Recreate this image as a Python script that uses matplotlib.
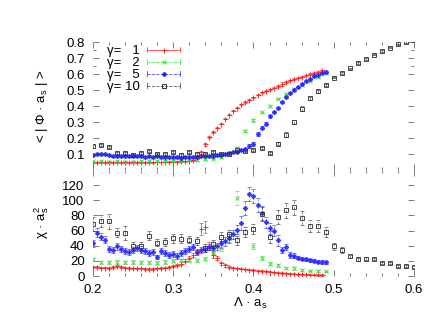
import numpy as np
import matplotlib
matplotlib.use('Agg')
import matplotlib.pyplot as plt
from matplotlib.legend_handler import HandlerBase
from matplotlib.lines import Line2D
from matplotlib.ticker import MultipleLocator, FixedLocator

plt.rcParams['font.family'] = ['Liberation Sans', 'DejaVu Sans']
plt.rcParams['mathtext.default'] = 'regular'
plt.rcParams['font.size'] = 9.5

# ---------------- data ----------------
# gamma = 1 (step 0.005, 0.200 .. 0.485)
lam_g1 = [0.200, 0.205, 0.210, 0.215, 0.220, 0.225, 0.230, 0.235, 0.240, 0.245,
          0.250, 0.255, 0.260, 0.265, 0.270, 0.275, 0.280, 0.285, 0.290, 0.295,
          0.300, 0.305, 0.310, 0.315, 0.320, 0.325, 0.330, 0.335, 0.340, 0.345,
          0.350, 0.355, 0.360, 0.365, 0.370, 0.375, 0.380, 0.385, 0.390, 0.395,
          0.400, 0.405, 0.410, 0.415, 0.420, 0.425, 0.430, 0.435, 0.440, 0.445,
          0.450, 0.455, 0.460, 0.465, 0.470, 0.475, 0.480, 0.485]
phi_g1 = [0.048, 0.048, 0.047, 0.048, 0.047, 0.048, 0.047, 0.048, 0.048, 0.047,
          0.048, 0.048, 0.048, 0.049, 0.049, 0.049, 0.050, 0.050, 0.051, 0.052,
          0.052, 0.053, 0.055, 0.056, 0.058, 0.062, 0.075, 0.110, 0.160, 0.205,
          0.235, 0.265, 0.290, 0.320, 0.345, 0.370, 0.390, 0.410, 0.425, 0.440,
          0.455, 0.470, 0.485, 0.495, 0.505, 0.515, 0.525, 0.540, 0.550, 0.560,
          0.568, 0.576, 0.584, 0.592, 0.600, 0.607, 0.614, 0.622]
phi_g1_err = [0.003, 0.003, 0.003, 0.003, 0.003, 0.003, 0.003, 0.003, 0.003, 0.003,
              0.003, 0.003, 0.003, 0.003, 0.003, 0.003, 0.003, 0.003, 0.003, 0.003,
              0.003, 0.003, 0.003, 0.003, 0.003, 0.003, 0.006, 0.010, 0.010, 0.008,
              0.006, 0.004, 0.004, 0.004, 0.004, 0.004, 0.004, 0.004, 0.004, 0.004,
              0.004, 0.004, 0.004, 0.004, 0.004, 0.004, 0.004, 0.012, 0.004, 0.004,
              0.004, 0.004, 0.004, 0.004, 0.004, 0.004, 0.004, 0.006]
chi_g1 = [12.0, 12.0, 11.0, 11.0, 10.5, 12.0, 13.5, 12.0, 11.0, 10.5,
          10.0, 10.0, 10.0, 9.5, 9.5, 9.5, 10.0, 10.5, 11.0, 12.0,
          13.0, 15.0, 16.5, 20.0, 24.0, 28.0, 32.0, 62.0, 65.0, 40.0,
          28.0, 24.0, 17.0, 14.0, 12.0, 11.0, 10.0, 9.5, 9.0, 8.5,
          8.0, 7.0, 6.5, 6.0, 5.5, 5.0, 4.5, 4.0, 3.5, 3.0,
          2.8, 2.5, 2.2, 2.0, 1.8, 1.5, 1.3, 1.2]
chi_g1_err = [1.0, 1.0, 1.0, 1.0, 1.0, 1.0, 1.0, 1.0, 1.0, 1.0,
              1.0, 1.0, 1.0, 1.0, 1.0, 1.0, 1.0, 1.0, 1.0, 1.0,
              1.0, 1.5, 1.5, 2.0, 2.0, 2.5, 3.0, 8.0, 8.0, 5.0,
              4.0, 3.0, 2.0, 1.5, 0.8, 0.8, 0.8, 0.8, 0.8, 0.8,
              0.8, 0.8, 0.8, 0.8, 0.8, 0.8, 0.8, 0.8, 0.8, 0.8,
              0.8, 0.8, 0.8, 0.8, 0.8, 0.8, 0.8, 0.8]

# gamma = 2 (step 0.01, 0.20 .. 0.49)
lam_g2 = [0.20, 0.21, 0.22, 0.23, 0.24, 0.25, 0.26, 0.27, 0.28, 0.29,
          0.30, 0.31, 0.32, 0.33, 0.34, 0.35, 0.36, 0.37, 0.38, 0.39,
          0.40, 0.41, 0.42, 0.43, 0.44, 0.45, 0.46, 0.47, 0.48, 0.49]
phi_g2 = [0.055, 0.055, 0.052, 0.055, 0.052, 0.053, 0.055, 0.055, 0.055, 0.057,
          0.058, 0.058, 0.060, 0.062, 0.066, 0.070, 0.083, 0.100, 0.135, 0.245,
          0.310, 0.360, 0.400, 0.445, 0.477, 0.508, 0.533, 0.558, 0.582, 0.605]
phi_g2_err = [0.004, 0.004, 0.004, 0.004, 0.004, 0.004, 0.004, 0.004, 0.004, 0.004,
              0.004, 0.004, 0.004, 0.004, 0.004, 0.004, 0.005, 0.006, 0.008, 0.008,
              0.008, 0.005, 0.004, 0.004, 0.004, 0.004, 0.004, 0.004, 0.004, 0.004]
chi_g2 = [22.0, 18.0, 18.0, 18.5, 18.0, 18.5, 18.0, 18.0, 17.5, 18.5,
          20.0, 21.0, 21.0, 21.0, 23.0, 32.0, 37.0, 50.0, 103.0, np.nan,
          40.0, 24.0, 16.0, 14.5, 11.0, 10.0, 8.0, 7.0, 6.5, 6.0]
chi_g2_err = [2.0, 2.0, 2.0, 2.0, 2.0, 2.0, 2.0, 2.0, 2.0, 2.0,
              2.0, 2.0, 2.0, 2.0, 2.5, 3.0, 4.0, 5.0, 9.0, 0.0,
              4.0, 3.0, 2.0, 2.0, 1.5, 1.5, 1.0, 1.0, 1.0, 1.0]

# gamma = 5 (step 0.005, 0.200 .. 0.490)
lam_g5 = [0.200, 0.205, 0.210, 0.215, 0.220, 0.225, 0.230, 0.235, 0.240, 0.245,
          0.250, 0.255, 0.260, 0.265, 0.270, 0.275, 0.280, 0.285, 0.290, 0.295,
          0.300, 0.305, 0.310, 0.315, 0.320, 0.325, 0.330, 0.335, 0.340, 0.345,
          0.350, 0.355, 0.360, 0.365, 0.370, 0.375, 0.380, 0.385, 0.390, 0.395,
          0.400, 0.405, 0.410, 0.415, 0.420, 0.425, 0.430, 0.435, 0.440, 0.445,
          0.450, 0.455, 0.460, 0.465, 0.470, 0.475, 0.480, 0.485, 0.490]
phi_g5 = [0.095, 0.100, 0.098, 0.100, 0.095, 0.090, 0.088, 0.085, 0.090, 0.085,
          0.088, 0.090, 0.085, 0.083, 0.085, 0.083, 0.085, 0.083, 0.080, 0.082,
          0.080, 0.080, 0.078, 0.080, 0.080, 0.082, 0.083, 0.085, 0.087, 0.088,
          0.090, 0.092, 0.095, 0.100, 0.105, 0.110, 0.115, 0.125, 0.130, 0.150,
          0.165, 0.225, 0.265, 0.290, 0.335, 0.365, 0.390, 0.425, 0.455, 0.480,
          0.500, 0.520, 0.540, 0.555, 0.570, 0.585, 0.595, 0.605, 0.615]
phi_g5_err = [0.006, 0.006, 0.006, 0.006, 0.006, 0.006, 0.006, 0.006, 0.006, 0.006,
              0.006, 0.006, 0.006, 0.006, 0.006, 0.006, 0.006, 0.006, 0.006, 0.006,
              0.006, 0.006, 0.006, 0.006, 0.006, 0.006, 0.006, 0.006, 0.006, 0.006,
              0.006, 0.006, 0.006, 0.006, 0.006, 0.006, 0.008, 0.008, 0.010, 0.010,
              0.012, 0.012, 0.010, 0.010, 0.008, 0.006, 0.006, 0.006, 0.006, 0.005,
              0.005, 0.005, 0.005, 0.005, 0.005, 0.005, 0.005, 0.005, 0.005]
chi_g5 = [43.0, 57.0, 52.0, 48.0, 36.0, 34.0, 39.0, 36.0, 33.0, 32.0,
          34.0, 37.0, 35.0, 33.0, 30.0, 32.0, 25.0, 33.0, 30.0, 28.0,
          29.0, 27.0, 30.0, 33.0, 36.0, 38.0, 32.0, 34.0, 36.0, 38.0,
          37.0, 39.0, 43.0, 46.0, 50.0, 55.0, 61.0, 70.0, 90.0, 108.0,
          106.0, 94.0, 83.0, 71.0, 63.0, 60.0, 47.0, 34.0, 38.0, 28.0,
          27.0, 24.0, 23.0, 22.0, 21.0, 20.0, 19.0, 18.5, 18.0]
chi_g5_err = [5.0, 6.0, 5.0, 5.0, 4.0, 4.0, 4.0, 4.0, 4.0, 4.0,
              4.0, 4.0, 4.0, 4.0, 4.0, 4.0, 3.0, 4.0, 4.0, 4.0,
              4.0, 4.0, 4.0, 4.0, 4.0, 4.0, 4.0, 4.0, 4.0, 4.0,
              4.0, 4.0, 6.0, 6.0, 6.0, 6.0, 6.0, 9.0, 9.0, 9.0,
              9.0, 9.0, 9.0, 7.0, 7.0, 7.0, 7.0, 4.0, 4.0, 4.0,
              3.0, 2.0, 2.0, 2.0, 2.0, 2.0, 2.0, 2.0, 2.0]

# gamma = 10 (step 0.01, 0.20 .. 0.60)
lam_g10 = [0.20, 0.21, 0.22, 0.23, 0.24, 0.25, 0.26, 0.27, 0.28, 0.29,
           0.30, 0.31, 0.32, 0.33, 0.34, 0.35, 0.36, 0.37, 0.38, 0.39,
           0.40, 0.41, 0.42, 0.43, 0.44, 0.45, 0.46, 0.47, 0.48, 0.49,
           0.50, 0.51, 0.52, 0.53, 0.54, 0.55, 0.56, 0.57, 0.58, 0.59, 0.60]
phi_g10 = [0.148, 0.155, 0.142, 0.108, 0.108, 0.094, 0.108, 0.118, 0.102, 0.098,
           0.112, 0.094, 0.114, 0.100, 0.100, 0.114, 0.100, 0.100, 0.122, 0.118,
           0.127, 0.135, 0.108, 0.165, 0.220, 0.300, 0.382, 0.447, 0.492, 0.532,
           0.577, 0.608, 0.635, 0.668, 0.694, 0.720, 0.744, 0.765, 0.785, 0.800, 0.815]
phi_g10_err = [0.008, 0.006, 0.006, 0.006, 0.006, 0.005, 0.006, 0.006, 0.006, 0.006,
               0.006, 0.005, 0.006, 0.005, 0.005, 0.006, 0.005, 0.005, 0.006, 0.006,
               0.006, 0.006, 0.006, 0.010, 0.015, 0.015, 0.015, 0.012, 0.008, 0.006,
               0.005, 0.005, 0.005, 0.005, 0.005, 0.004, 0.004, 0.004, 0.004, 0.004, 0.004]
chi_g10 = [69.0, 73.0, 72.0, 57.0, 57.0, 40.0, 40.0, 53.0, 44.0, 45.0,
           50.0, 49.0, 48.0, 46.0, 37.0, 42.0, 52.0, 55.0, 47.0, 58.0,
           62.0, 82.0, 52.0, 78.0, 87.0, 91.0, 77.0, 66.0, 66.0, 58.0,
           39.0, 34.0, 26.0, 22.0, 22.5, 22.0, 17.0, 17.0, 13.5, 13.0, 11.5]
chi_g10_err = [9.0, 8.0, 10.0, 6.0, 9.0, 5.0, 5.0, 6.0, 5.0, 5.0,
               6.0, 6.0, 5.0, 5.0, 5.0, 5.0, 6.0, 6.0, 6.0, 7.0,
               7.0, 9.0, 8.0, 9.0, 10.0, 10.0, 9.0, 8.0, 8.0, 7.0,
               4.0, 4.0, 2.0, 2.0, 2.0, 1.5, 1.5, 1.5, 1.5, 1.5, 1.5]

labels = ['γ=   1', 'γ=   2', 'γ=   5', 'γ= 10']
colors = ['#ff1a1a', '#33e033', '#2222ff', '#333333']
markers = ['+', 'x', (8, 2, 0), 's']
ebar_styles = ['-', (0, (1.2, 1.2)), (0, (2.5, 2.0)), (0, (3, 1.5, 1, 1.5))]

series = [
    (lam_g1, phi_g1, phi_g1_err, chi_g1, chi_g1_err),
    (lam_g2, phi_g2, phi_g2_err, chi_g2, chi_g2_err),
    (lam_g5, phi_g5, phi_g5_err, chi_g5, chi_g5_err),
    (lam_g10, phi_g10, phi_g10_err, chi_g10, chi_g10_err),
]

# ---------------- figure ----------------
fig = plt.figure(figsize=(4.36, 3.14), dpi=100)
ax1 = fig.add_axes([0.2133, 0.4586, 0.7362, 0.4076])
ax2 = fig.add_axes([0.2133, 0.1210, 0.7362, 0.3376], sharex=ax1)

MS = {'+': 3.6, 'x': 3.2, 's': 3.0}


def msize(mk):
    return MS.get(mk, 3.4) if isinstance(mk, str) else 3.4


def draw(ax, x, y, e, i):
    mk = markers[i]
    cont = ax.errorbar(x, y, yerr=e, fmt='none', ecolor=colors[i],
                       elinewidth=0.6, capsize=1.3, capthick=0.6, zorder=2 + i * 0.1)
    for lc in cont[2]:
        lc.set_linestyle(ebar_styles[i])
        lc.set_alpha(0.7)
    for cl in cont[1]:
        cl.set_alpha(0.7)
    ax.plot(x, y, ls='none', marker=mk, ms=msize(mk), mew=0.7, mfc='none',
            mec=colors[i], color=colors[i], alpha=0.9, zorder=3 + i * 0.1)


for i, (lam, phi, phie, chi, chie) in enumerate(series):
    draw(ax1, lam, phi, phie, i)
    draw(ax2, lam, chi, chie, i)

ax1.set_xlim(0.2, 0.6)
ax1.set_ylim(0.0, 0.8)
ax2.set_ylim(0, 140)

for ax in (ax1, ax2):
    for s in ax.spines.values():
        s.set_visible(False)
    ax.xaxis.set_major_locator(MultipleLocator(0.1))
    ax.xaxis.set_minor_locator(MultipleLocator(0.02))
    ax.tick_params(which='both', direction='in', top=True, right=True,
                   color='#666666', width=0.6, labelsize=9.5)
    ax.tick_params(which='major', length=4, pad=6)
    ax.tick_params(which='minor', length=2)

ax1.yaxis.set_major_locator(FixedLocator([0.1, 0.2, 0.3, 0.4, 0.5, 0.6, 0.7, 0.8]))
ax1.yaxis.set_minor_locator(FixedLocator([0.65, 0.75]))
ax1.set_yticklabels(['0.1', '0.2', '0.3', '0.4', '0.5', '0.6', '0.7', '0.8'])
ax1.tick_params(axis='x', labelbottom=False)

ax2.yaxis.set_major_locator(FixedLocator([0, 20, 40, 60, 80, 100, 120]))
ax2.set_xticks([0.2, 0.3, 0.4, 0.5, 0.6])
ax2.set_xticklabels(['0.2', '0.3', '0.4', '0.5', '0.6'])

ax1.set_ylabel('< | Φ · a$_s$ | >', fontsize=9.5, va='center')
ax1.yaxis.set_label_coords(-0.159, 0.5)
ax2.set_ylabel('χ · a$_s^2$', fontsize=9.5, va='center')
ax2.yaxis.set_label_coords(-0.159, 0.5)
ax2.set_xlabel('Λ · a$_s$', fontsize=9.5, va='center')
ax2.xaxis.set_label_coords(0.49, -0.255)


class ErrbarHandler(HandlerBase):
    def create_artists(self, legend, orig_handle, xdescent, ydescent,
                       width, height, fontsize, trans):
        y = height / 2.0 - ydescent
        x0 = -xdescent
        x1 = -xdescent + width
        c = orig_handle.get_color()
        ls = orig_handle.get_linestyle()
        cap = height * 0.28
        line = Line2D([x0, x1], [y, y], color=c, lw=0.6, ls=ls, transform=trans, alpha=0.8)
        c1 = Line2D([x0, x0], [y - cap, y + cap], color=c, lw=0.6, transform=trans, alpha=0.8)
        c2 = Line2D([x1, x1], [y - cap, y + cap], color=c, lw=0.6, transform=trans, alpha=0.8)
        mk = orig_handle.get_marker()
        m = Line2D([(x0 + x1) / 2.0], [y], ls='none', marker=mk,
                   ms=msize(mk), mew=0.7, mfc='none', mec=c,
                   transform=trans)
        return [line, c1, c2, m]


handles = []
for i in range(4):
    h = Line2D([], [], color=colors[i], marker=markers[i], ls=ebar_styles[i])
    handles.append(h)

leg = ax1.legend(handles, labels, loc='upper left', bbox_to_anchor=(0.044, 0.975),
                 frameon=False, markerfirst=False, handlelength=2.5,
                 handletextpad=0.55, labelspacing=-0.02, borderpad=0.0,
                 borderaxespad=0.0, fontsize=9.5,
                 handler_map={Line2D: ErrbarHandler()})

fig.savefig('out.png', dpi=100)
